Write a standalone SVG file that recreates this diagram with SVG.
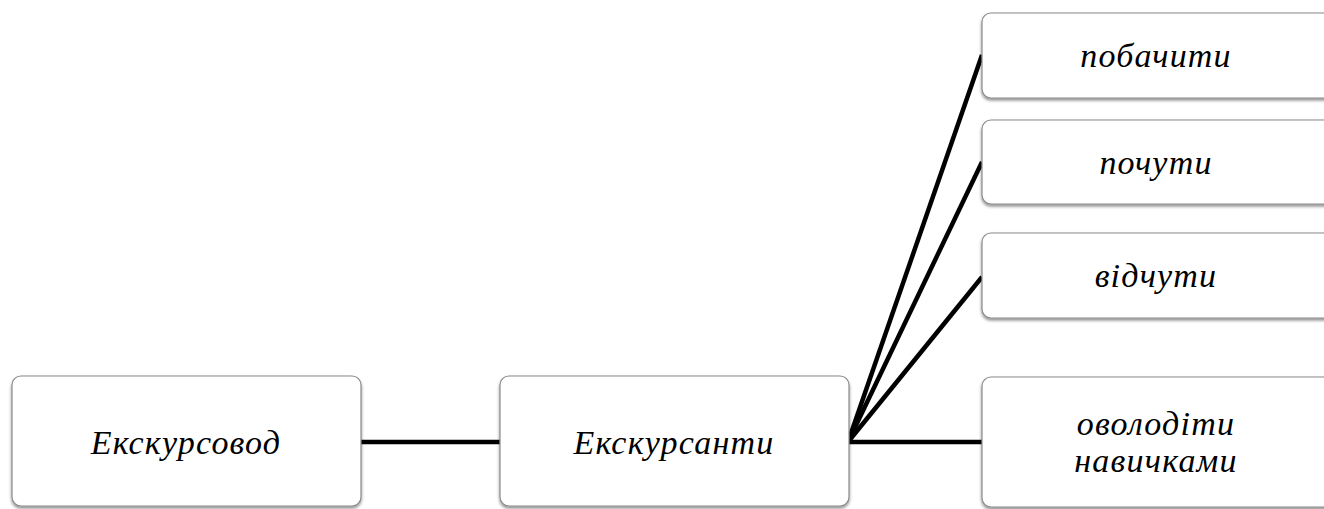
<svg xmlns="http://www.w3.org/2000/svg" width="1324" height="509" viewBox="0 0 1324 509">
<defs>
<style>
.box{fill:#fff;stroke:#8a8a8a;stroke-width:1.2;filter:url(#sh)}
.t{font-family:'Liberation Serif','Times New Roman',serif;font-style:italic;font-size:34px;letter-spacing:1.2px;fill:#000;text-anchor:middle}
.c{stroke:#000;stroke-width:4.5;fill:none;stroke-linecap:butt}
</style>
<filter id="sh" x="-10%" y="-10%" width="120%" height="130%">
<feDropShadow dx="0" dy="2" stdDeviation="1.5" flood-color="#000" flood-opacity="0.45"/>
</filter>
</defs>
<rect width="1324" height="509" fill="#fff"/>
<g id="connectors">
<line class="c" x1="361" y1="442" x2="500" y2="442"/>
<line class="c" x1="848" y1="442" x2="982" y2="442"/>
<line class="c" x1="848" y1="442" x2="982" y2="55"/>
<line class="c" x1="848" y1="442" x2="982" y2="162"/>
<line class="c" x1="848" y1="442" x2="982" y2="277"/>
</g>
<g id="n1">
<rect class="box" x="12" y="376" width="349" height="130" rx="9"/>
<text class="t" x="186" y="454">Екскурсовод</text>
</g>
<g id="n2">
<rect class="box" x="500" y="376" width="349" height="130" rx="9"/>
<text class="t" x="674" y="454">Екскурсанти</text>
</g>
<g id="n3">
<rect class="box" x="982" y="13" width="360" height="85" rx="9"/>
<text class="t" x="1156" y="67">побачити</text>
</g>
<g id="n4">
<rect class="box" x="982" y="120" width="360" height="84" rx="9"/>
<text class="t" x="1156" y="174">почути</text>
</g>
<g id="n5">
<rect class="box" x="982" y="233" width="360" height="85" rx="9"/>
<text class="t" x="1156" y="287">відчути</text>
</g>
<g id="n6">
<rect class="box" x="982" y="377" width="360" height="130" rx="9"/>
<text class="t" x="1156" y="435">оволодіти</text>
<text class="t" x="1156" y="472">навичками</text>
</g>
</svg>
